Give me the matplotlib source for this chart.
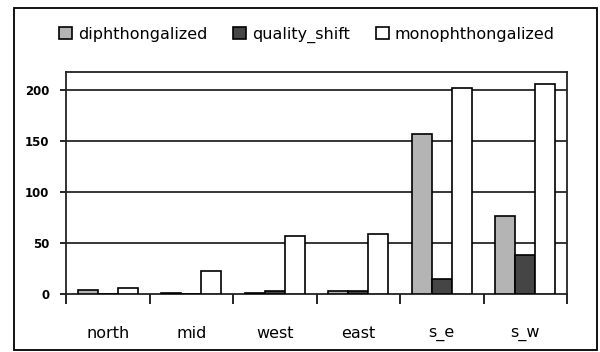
import numpy as np
import matplotlib
matplotlib.use('Agg')
import matplotlib.pyplot as plt
from matplotlib.patches import Rectangle

regions = ['north', 'mid', 'west', 'east', 's_e', 's_w']
series_names = ['diphthongalized', 'quality_shift', 'monophthongalized']
diphthongalized = [4, 1, 1, 3, 157, 77]
quality_shift = [0, 0, 3, 3, 15, 38]
monophthongalized = [6, 23, 57, 59, 202, 206]
y_ticks = [0, 50, 100, 150, 200]

colors = ['#b4b4b4', '#454545', '#ffffff']

fig = plt.figure(figsize=(6.0, 3.52), dpi=100)
ax = fig.add_axes([66 / 600, 58 / 352, 501 / 600, 222 / 352])

x = np.arange(len(regions))
w = 0.24
for i, vals in enumerate([diphthongalized, quality_shift, monophthongalized]):
    ax.bar(x + (i - 1) * w, vals, width=w, color=colors[i], edgecolor='black',
           linewidth=1.2, label=series_names[i], zorder=3)

ax.set_xlim(-0.5, len(regions) - 0.5)
ax.set_ylim(0, 218)
ax.set_yticks(y_ticks)
ax.set_yticklabels([str(v) for v in y_ticks], fontsize=8.5, fontweight='bold')
for v in y_ticks[1:]:
    ax.axhline(v, color='black', linewidth=1.1, zorder=1)

ax.set_xticks(x)
ax.set_xticklabels(regions, fontsize=11.5)
ax.tick_params(axis='x', which='major', length=0, pad=23)
ax.set_xticks(np.arange(len(regions) + 1) - 0.5, minor=True)
ax.tick_params(axis='x', which='minor', length=7, width=1.2, direction='out')
ax.tick_params(axis='y', length=4, width=1.2, pad=8)

for s in ax.spines.values():
    s.set_linewidth(1.3)
    s.set_color('#222222')

# legend row near the top of the frame
ax.legend(loc='center', bbox_to_anchor=(307 / 600, (352 - 35) / 352), bbox_transform=fig.transFigure,
          ncol=3, frameon=False, fontsize=11.5, handlelength=0.8, handleheight=0.8,
          handletextpad=0.4, columnspacing=1.6, borderpad=0)

fig.patches.append(Rectangle((14 / 600, 2 / 352), 583 / 600, 342 / 352, transform=fig.transFigure,
                             fill=False, edgecolor='black', linewidth=1.3))
fig.savefig('out.png', dpi=100)
